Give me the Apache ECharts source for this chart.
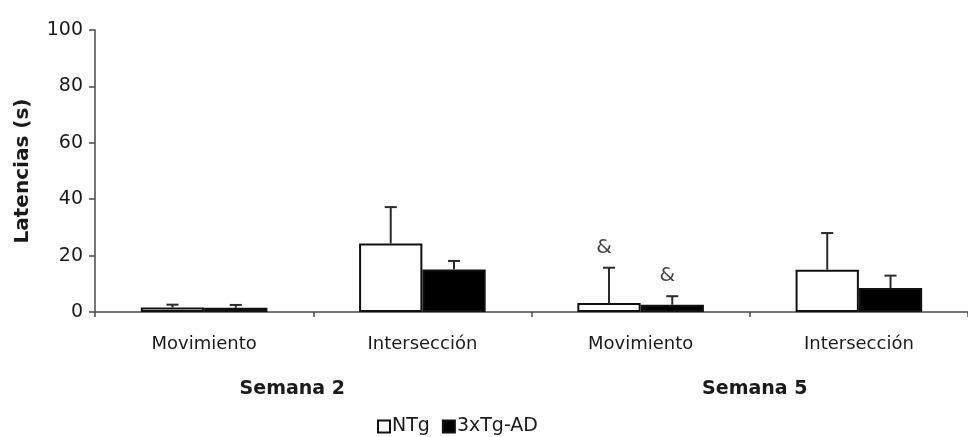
<!DOCTYPE html>
<html>
<head>
<meta charset="utf-8">
<script src="https://cdn.jsdelivr.net/npm/echarts@6/dist/echarts.min.js"></script>
<style>html,body{margin:0;padding:0;background:#fff}#c{width:968px;height:437px}</style>
</head>
<body>
<div id="c"></div>
<script>
// ---- data ----
const categories = ["Movimiento", "Intersección", "Movimiento", "Intersección"];
const groups = ["Semana 2", "Semana 5"];
const seriesNames = ["NTg", "3xTg-AD"];
const ntgMean = [1.6, 24.3, 3.2, 15.0];
const ntgSD   = [1.0, 12.9, 12.5, 13.0];
const tgMean  = [1.5, 15.1, 2.6, 8.5];
const tgSD    = [1.0, 3.0, 3.0, 4.4];
const ntgMarks = ["", "", "&", ""];
const tgMarks  = ["", "", "&", ""];
const yTicks = [0, 20, 40, 60, 80, 100];

const FONT = "DejaVu Sans";
const TXT = "#1a1a1a";
const AX = "#4a4a4a";
const CAT_GAP = 0.42;

function errData(means, sds, s) {
  return means.map((m, i) => [i, m, sds[i], s]);
}
const marks = [ntgMarks, tgMarks];

function renderErr(params, api) {
  const cat = api.value(0), mean = api.value(1), sd = api.value(2), s = api.value(3);
  const band = api.size([1, 0])[0];
  const bw = band * (1 - CAT_GAP) / 2;
  const base = api.coord([cat, mean]);
  const x = base[0] + (s === 0 ? -bw / 2 : bw / 2);
  const top = api.coord([cat, mean + sd])[1];
  const st = { stroke: "#2a2a2a", lineWidth: 2 };
  const children = [
    { type: "line", shape: { x1: x, y1: base[1], x2: x, y2: top }, style: st },
    { type: "line", shape: { x1: x - 6, y1: top, x2: x + 6, y2: top }, style: st }
  ];
  const m = marks[s][cat];
  if (m) {
    children.push({
      type: "text",
      style: { text: m, x: x - 5, y: top - 20, align: "center", verticalAlign: "middle",
               font: "20px " + FONT, fill: "#444" }
    });
  }
  return { type: "group", children };
}

const chart = echarts.init(document.getElementById("c"), null, { renderer: "canvas" });
chart.setOption({
  animation: false,
  backgroundColor: "#fff",
  grid: { left: 95, right: -4, top: 30, bottom: 125, containLabel: false },
  legend: {
    data: seriesNames,
    left: 372, top: 412,
    itemWidth: 12, itemHeight: 12, itemGap: 12,
    icon: "rect",
    textStyle: { fontFamily: FONT, fontSize: 19, color: TXT, padding: [0, 0, 0, -3] }
  },
  xAxis: [
    {
      type: "category", data: categories, position: "bottom",
      axisLine: { lineStyle: { color: AX, width: 1.5 } },
      axisTick: { show: true, length: 5, lineStyle: { color: AX, width: 1.5 } },
      axisLabel: { fontFamily: FONT, fontSize: 18, color: TXT, margin: 23 },
      splitLine: { show: false }
    },
    {
      type: "category", data: groups, position: "bottom", offset: 68,
      axisLine: { show: false }, axisTick: { show: false },
      axisLabel: {
        margin: 0,
        formatter: (v, i) => (i === 0 ? "{a|" + v + "}" : "{b|" + v + "}"),
        rich: {
          a: { fontFamily: FONT, fontSize: 19, fontWeight: "bold", color: TXT, padding: [0, 42, 0, 0] },
          b: { fontFamily: FONT, fontSize: 19, fontWeight: "bold", color: TXT, padding: [0, 0, 0, 10] }
        }
      }
    }
  ],
  yAxis: {
    type: "value", min: yTicks[0], max: yTicks[yTicks.length - 1], interval: 20,
    name: "Latencias (s)", nameLocation: "middle", nameGap: 62,
    nameTextStyle: { fontFamily: FONT, fontSize: 20, fontWeight: "bold", color: TXT },
    axisLine: { show: true, lineStyle: { color: AX, width: 1.5 } },
    axisTick: { show: true, inside: false, length: 6, lineStyle: { color: AX, width: 1.5 } },
    axisLabel: { fontFamily: FONT, fontSize: 19, color: TXT, margin: 12 },
    splitLine: { show: false }
  },
  series: [
    {
      name: seriesNames[0], type: "bar", data: ntgMean, barGap: "0%", barCategoryGap: (CAT_GAP * 100) + "%",
      itemStyle: { color: "#ffffff", borderColor: "#111", borderWidth: 2 }
    },
    {
      name: seriesNames[1], type: "bar", data: tgMean, barGap: "0%", barCategoryGap: (CAT_GAP * 100) + "%",
      itemStyle: { color: "#000000", borderColor: "#111", borderWidth: 2 }
    },
    { type: "custom", renderItem: renderErr, data: errData(ntgMean, ntgSD, 0), encode: { x: 0, y: 1 }, z: 5 },
    { type: "custom", renderItem: renderErr, data: errData(tgMean, tgSD, 1), encode: { x: 0, y: 1 }, z: 5 }
  ]
});
</script>
</body>
</html>
